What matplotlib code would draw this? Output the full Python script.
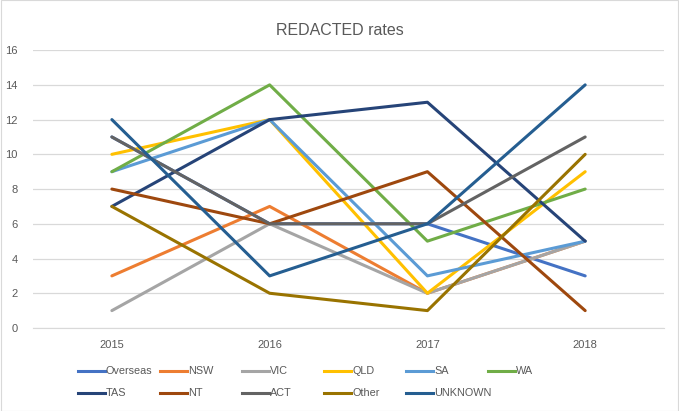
import numpy as np
import matplotlib
matplotlib.use("Agg")
import matplotlib.pyplot as plt
from matplotlib.lines import Line2D

plt.rcParams['font.family'] = ['Liberation Sans', 'DejaVu Sans']

years = ["2015", "2016", "2017", "2018"]
series_names = ["Overseas", "NSW", "VIC", "QLD", "SA", "WA",
                "TAS", "NT", "ACT", "Other", "UNKNOWN"]
colors = ["#4472C4", "#ED7D31", "#A5A5A5", "#FFC000", "#5B9BD5", "#70AD47",
          "#264478", "#9E480E", "#636363", "#997300", "#255E91"]

overseas = [11, 6, 6, 3]
nsw = [3, 7, 2, 5]
vic = [1, 6, 2, 5]
qld = [10, 12, 2, 9]
sa = [9, 12, 3, 5]
wa = [9, 14, 5, 8]
tas = [7, 12, 13, 5]
nt = [8, 6, 9, 1]
act = [11, 6, 6, 11]
other = [7, 2, 1, 10]
unknown = [12, 3, 6, 14]

values = [overseas, nsw, vic, qld, sa, wa, tas, nt, act, other, unknown]

txt = "#595959"

fig = plt.figure(figsize=(6.79, 4.11), dpi=100)
ax = fig.add_axes([0.0486, 0.202, 0.9294, 0.676])

x = np.arange(len(years))
for name, vals, c in zip(series_names, values, colors):
    ax.plot(x, vals, color=c, lw=2.2, label=name, solid_capstyle="round")

ax.set_xlim(-0.5, 3.5)
ax.set_ylim(0, 16)
ax.set_yticks(np.arange(0, 17, 2))
ax.set_xticks(x)
ax.set_xticklabels(years)
ax.grid(axis="y", color="#D9D9D9", lw=0.9)
ax.set_axisbelow(True)
for s in ["top", "right", "left"]:
    ax.spines[s].set_visible(False)
ax.spines["bottom"].set_color("#D9D9D9")
ax.tick_params(length=0, colors=txt, labelsize=8)
ax.tick_params(axis="x", pad=9)
ax.tick_params(axis="y", pad=11)

fig.text(0.5, 0.925, "REDACTED rates", ha="center", va="center",
         fontsize=11.5, color=txt)

# legend laid out like Excel: equal column widths, two rows
for i, (name, c) in enumerate(zip(series_names, colors)):
    row, col = divmod(i, 6)
    x0 = (78 + col * 82) / 679
    y0 = 1 - (371 + row * 22) / 411
    fig.add_artist(Line2D([x0, x0 + 27 / 679], [y0, y0], color=c, lw=2.2,
                          transform=fig.transFigure))
    fig.text(x0 + 28 / 679, y0, name, ha="left", va="center",
             fontsize=7.8, color=txt)

fig.add_artist(plt.Rectangle((0.001, 0.001), 0.998, 0.998, fill=False,
                             edgecolor="#D9D9D9", lw=0.8,
                             transform=fig.transFigure))

fig.savefig("out.png", dpi=100)
